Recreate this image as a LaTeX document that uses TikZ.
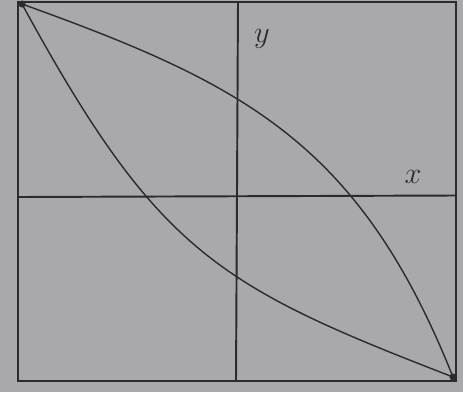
\documentclass[tikz,border=0pt]{standalone}
\usepackage{tikz}
\usetikzlibrary{positioning}
\definecolor{paper}{HTML}{A9A8AB}
\definecolor{ink}{HTML}{2B2A2D}
\tikzset{
  frame/.style ={draw=ink, line width=1.5pt},
  axis/.style  ={draw=ink, line width=1.1pt},
  curve/.style ={draw=ink, line width=.8pt},
  lbl/.style   ={font=\LARGE, color=ink, inner sep=0pt},
}

\begin{document}
\begin{tikzpicture}
    \fill[paper] (0,0) rectangle (9.26,7.84);
    \useasboundingbox (0,0) rectangle (9.26,7.84);

    \coordinate (bl) at (0.36,0.22);
    \coordinate (tr) at (9.12,7.80);
    \coordinate (tl) at (0.44,7.76);
    \coordinate (br) at (9.06,0.30);
    \coordinate (ytop) at (4.76,7.80);
    \coordinate (ybot) at (4.72,0.22);
    \coordinate (xl) at (0.36,3.90);
    \coordinate (xr) at (9.12,3.93);

    \draw[frame] (bl) rectangle (tr);
    \draw[axis] (ybot) -- (ytop);
    \draw[axis] (xl) -- (xr);

    \node[lbl] (ylbl) at (5.24,7.06) {$y$};
    \node[lbl] (xlbl) at (8.26,4.30) {$x$};

    % upper and lower curve
    \draw[curve] (tl) .. controls (4.85,6.17) and (7.18,5.01) .. (br);
    \draw[curve] (tl) .. controls (3.15,2.79) and (4.35,2.12) .. (br);
    \fill[ink] (tl) circle (2pt);
    \fill[ink] (br) circle (2pt);
  \end{tikzpicture}
\end{document}
